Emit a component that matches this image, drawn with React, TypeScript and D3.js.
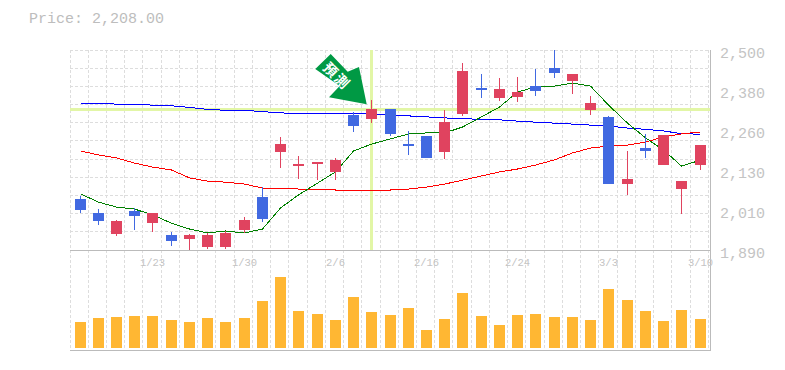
import React from "react";
import * as d3 from "d3";

const title = "Price: 2,208.00";
const priceLabels = ["2,500", "2,380", "2,260", "2,130", "2,010", "1,890"];
const dateLabels = [[4, "1/23"], [9, "1/30"], [14, "2/6"], [19, "2/16"], [24, "2/24"], [29, "3/3"], [34, "3/10"]] as const;
const opens = [2044,2001,1937,2007,1971,1934,1922,1898,1898,1950,2050,2187,2145,2151,2126,2300,2288,2319,2212,2236,2187,2303,2383,2352,2355,2389,2444,2404,2316,2294,2090,2200,2148,2075,2148];
const highs = [2053,2014,1980,2017,2001,1943,1937,1940,1946,1989,2081,2233,2175,2157,2169,2309,2346,2319,2251,2236,2316,2459,2425,2413,2416,2441,2499,2425,2358,2297,2190,2242,2239,2099,2208];
const lows = [2001,1965,1931,1950,1943,1901,1889,1892,1892,1940,1974,2139,2105,2102,2102,2248,2276,2236,2178,2169,2166,2297,2352,2343,2340,2358,2413,2364,2300,2090,2056,2169,2148,1998,2133];
const closes = [2011,1977,1977,1992,2001,1916,1934,1934,1940,1980,1983,2212,2151,2157,2163,2267,2319,2242,2206,2169,2279,2435,2377,2380,2370,2374,2428,2425,2337,2090,2105,2190,2239,2099,2208];
const ma5 = [2061,2036,2021,2015,1997,1972,1954,1942,1948,1942,1954,2018,2058,2094,2128,2192,2213,2229,2244,2247,2247,2265,2296,2326,2372,2387,2390,2399,2390,2332,2277,2232,2195,2146,2164];
const ma25 = [2192,2180,2171,2155,2143,2134,2110,2100,2097,2091,2079,2079,2076,2076,2073,2073,2073,2073,2076,2082,2091,2103,2116,2128,2137,2149,2165,2186,2201,2207,2210,2219,2235,2244,2250];
const ma75 = [2337,2337,2335,2334,2332,2330,2325,2319,2316,2316,2312,2308,2307,2307,2306,2306,2305,2302,2299,2296,2293,2290,2289,2287,2283,2280,2277,2274,2271,2268,2262,2258,2253,2245,2243];
const volumes = [2600,3000,3100,3200,3200,2800,2600,3000,2600,3000,4700,7100,3700,3400,2800,5100,3600,3300,4000,1800,2900,5500,3200,2300,3300,3400,3100,3100,2800,5900,4800,3700,2700,3800,2900];
const crossIndex = 16;
const crossPrice = 2320;
const arrowLabel = "預測";

const C = { grid: "#dddddd", axis: "#bbbbbb", text: "#c4c4c4", up: "#e0435f", down: "#4169e1", vol: "#ffb733", cross: "#e2f6a6", arrow: "#009944" };
const FONT = "'Liberation Mono', monospace";

export default function App() {
  const x = d3.scaleLinear().domain([0, 34]).range([80.5, 700.5]);
  const gx = d3.scaleLinear().domain([0, 34]).range([70, 690]);
  const y = d3.scaleLinear().domain([1890, 2500]).range([250, 50]);
  const gy = d3.scaleLinear().domain([0, 11]).range([50, 250]);
  const v = d3.scaleLinear().domain([0, 7100]).range([348, 277]);
  const labelY = d3.scalePoint<string>().domain(priceLabels).range([50, 250]);
  const left = (i: number) => Math.floor(x(i) - 5.5);
  const py = (p: number) => Math.floor(y(p));
  const line = d3.line<number>().x((_, i) => left(i) + 5.5).y((d) => y(d));
  const vGrid = d3.range(0, 36).map((i) => Math.floor(gx(i)) + 0.5);
  const hGrid = d3.range(0, 11).map((i) => Math.floor(gy(i)) + 0.5);
  const cx = left(crossIndex) + 5.5;
  const cy = py(crossPrice);
  const arrow = [[315.3, 69], [330.7, 54], [347.7, 71.7], [359, 67], [366.7, 104.3], [329, 97.3], [339.7, 86]];

  return (
    <svg width={785} height={370} style={{ position: "absolute", left: 0, top: 0, background: "#fff" }}>
      <text x={29} y={23} fontFamily={FONT} fontSize={15} fill="#bdbdbd">{title}</text>
      <g stroke={C.grid} strokeDasharray="3 2" shapeRendering="crispEdges">
        {vGrid.map((g, i) => <line key={i} x1={g} x2={g} y1={50} y2={350} />)}
        {hGrid.map((g, i) => <line key={i} x1={70} x2={710} y1={g} y2={g} />)}
      </g>
      <g stroke={C.axis} shapeRendering="crispEdges">
        <line x1={70} x2={710} y1={250.5} y2={250.5} />
        <line x1={70} x2={710} y1={350.5} y2={350.5} />
        <line x1={710.5} x2={710.5} y1={50} y2={351} />
      </g>
      <g fill={C.cross} shapeRendering="crispEdges">
        <rect x={70} y={cy - 1} width={640} height={3} />
        <rect x={cx - 1.5} y={50} width={3} height={200} />
      </g>
      <g fill="none" shapeRendering="crispEdges" strokeWidth={1}>
        <path d={line(ma75) ?? ""} stroke="#0000ff" />
        <path d={line(ma25) ?? ""} stroke="#ff0000" />
        <path d={line(ma5) ?? ""} stroke="#008000" />
      </g>
      <g shapeRendering="crispEdges">
        {opens.map((o, i) => {
          const c = closes[i];
          const col = c >= o ? C.up : C.down;
          const t = py(Math.max(o, c));
          const b = py(Math.min(o, c));
          return (
            <g key={i} fill={col}>
              <rect x={left(i) + 5} y={py(highs[i])} width={1} height={py(lows[i]) - py(highs[i])} />
              <rect x={left(i)} y={t} width={11} height={Math.max(b - t, 1)} />
            </g>
          );
        })}
        {volumes.map((d, i) => (
          <rect key={i} x={left(i)} y={v(d)} width={11} height={348 - v(d)} fill={C.vol} />
        ))}
      </g>
      <polygon points={arrow.map((p) => p.join(",")).join(" ")} fill={C.arrow} />
      <text transform="translate(337.5,75.5) rotate(45)" textAnchor="middle" dominantBaseline="central" fontFamily="'Noto Sans CJK TC'" fontWeight={700} fontSize={14} letterSpacing={2} fill="#fff">{arrowLabel}</text>
      {priceLabels.map((l) => (
        <text key={l} x={720} y={(labelY(l) ?? 0) + 8} fontFamily={FONT} fontSize={15} fill={C.text}>{l}</text>
      ))}
      {dateLabels.map(([i, l]) => (
        <text key={l} x={left(i) + 5.5} y={266} textAnchor="middle" fontFamily={FONT} fontSize={10.5} fill={C.text}>{l}</text>
      ))}
    </svg>
  );
}
